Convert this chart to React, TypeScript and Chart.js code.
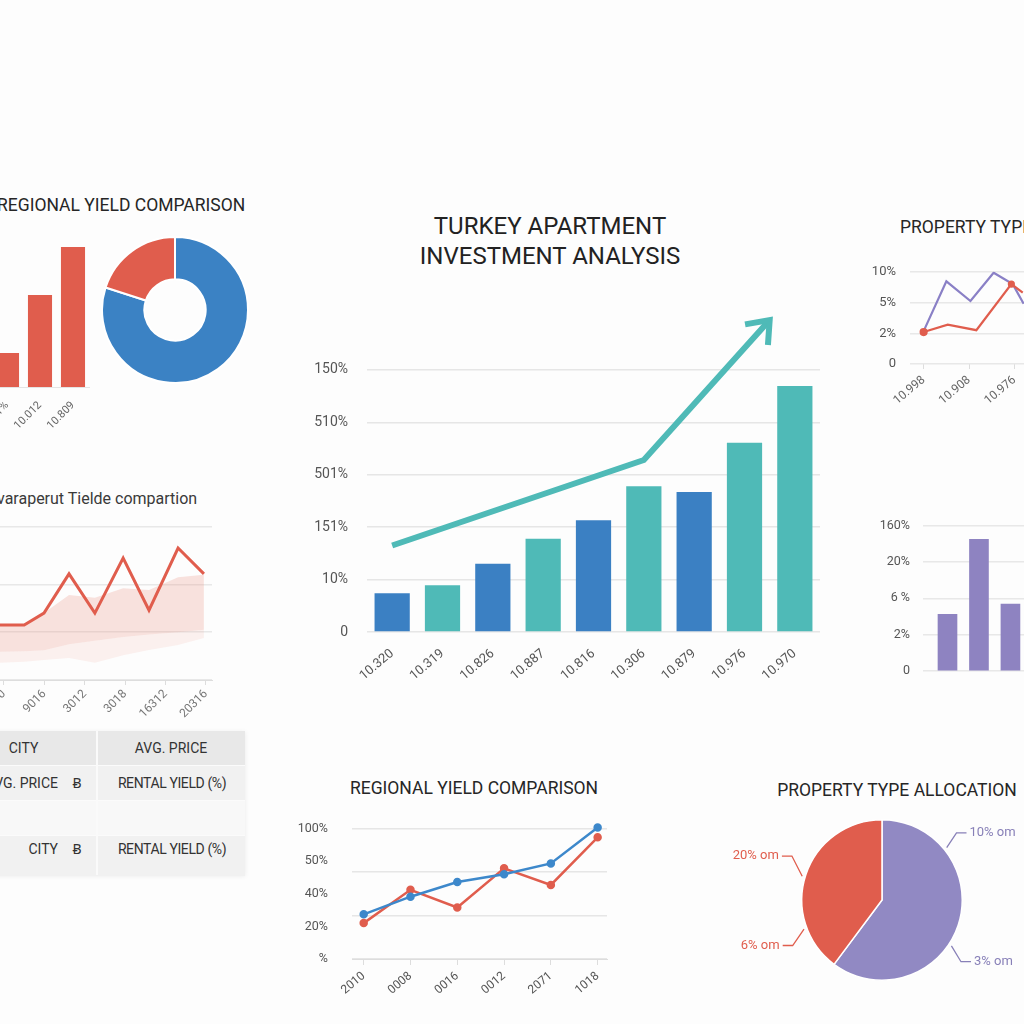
import React, { useEffect, useRef } from "react";
import { Chart, registerables } from "chart.js";

Chart.register(...registerables);
const FONT = "Roboto, 'Noto Sans', Arial, sans-serif";
Chart.defaults.font.family = FONT;

// ---------- Main chart (Turkey apartment investment analysis) ----------
const mainCategories = ["10.320", "10.319", "10.826", "10.887", "10.816", "10.306", "10.879", "10.976", "10.970"];
const mainValues = [0.74, 0.89, 1.3, 1.78, 2.13, 2.78, 2.67, 3.61, 4.69];
const mainTickLabels = ["0", "10%", "151%", "501%", "510%", "150%"];
const mainTrendX = [0, 5, 7.5];
const mainTrendY = [1.65, 3.28, 5.95];

// ---------- Top-left: regional yield comparison ----------
const aCategories = ["10.01%", "10.012", "10.809"];
const aValues = [22.8, 61.7, 94];
const donutValues = [80, 20];

// ---------- Mid-left: yield comparison line ----------
const bTickLabels = ["2010", "9016", "3012", "3018", "16312", "20316"];
const bX = [-0.1, 0.5, 0.99, 1.61, 2.25, 2.95, 3.59, 4.31, 4.95];
const bLine = [1.15, 1.15, 1.4, 2.22, 1.4, 2.55, 1.46, 2.76, 2.22];
const bBandTop = [1.15, 1.15, 1.4, 1.78, 1.72, 1.92, 1.88, 2.15, 2.2];
const bBandMid = [0.59, 0.6, 0.62, 0.75, 0.82, 0.9, 0.95, 1.0, 1.05];
const bBandLow = [0.36, 0.38, 0.42, 0.46, 0.36, 0.52, 0.63, 0.73, 0.88];
const bGridValues = [0, 1, 2, 3.2];

// ---------- Top-right: property type line ----------
const dTickLabels = ["10.998", "10.908", "10.976"];
const dYLabels = ["0", "2%", "5%", "10%"];
const dPurpleX = [0, 0.5, 1.03, 1.54, 1.96, 2.2];
const dPurpleY = [1.07, 2.69, 2.05, 2.97, 2.6, 1.96];
const dRedX = [0, 0.53, 1.16, 1.93, 2.18];
const dRedY = [1.04, 1.28, 1.1, 2.6, 2.32];

// ---------- Mid-right: bars ----------
const eCategories = ["10.336", "10.996", "10.800"];
const eValues = [1.56, 3.62, 1.84];
const eYLabels = ["0", "2%", "6 %", "20%", "160%"];

// ---------- Bottom-center: regional yield comparison lines ----------
const gCategories = ["2010", "0008", "0016", "0012", "2071", "1018"];
const gBlue = [1.37, 1.91, 2.36, 2.6, 2.93, 4.03];
const gRed = [1.1, 2.12, 1.58, 2.78, 2.27, 3.73];
const gYLabels = ["%", "20%", "40%", "50%", "100%"];

// ---------- Bottom-right: property type allocation ----------
const pieValues = [60.2, 39.8];
const pieCallouts = ["10% om", "3% om", "20% om", "6% om"];

// ---------- Table ----------
const tableHeader = ["CITY", "AVG. PRICE"];
const tableRows = [
  ["AVG. PRICE", "Ƀ", "RENTAL YIELD (%)"],
  ["", "", ""],
  ["CITY", "Ƀ", "RENTAL YIELD (%)"],
];

// ---------- Styles ----------
const BLUE = "#3b80c3";
const TEAL = "#4fbab7";
const RED = "#e05d4d";
const DONUT_BLUE = "#3b82c4";
const PURPLE_BAR = "#8e83c1";
const PURPLE_LINE = "#8a80c6";
const PIE_PURPLE = "#9189c3";
const PURPLE_TXT = "#8880b8";
const G_BLUE = "#3d88cb";
const mainBarColors = [BLUE, TEAL, BLUE, TEAL, BLUE, TEAL, BLUE, TEAL, TEAL];
const dRedPointRadius = [3, 0, 0, 2.5, 0];
const calloutGeom = [
  { angle: 51, elbow: 48, color: PURPLE_TXT, right: true },
  { angle: 123.5, elbow: 128, color: PURPLE_TXT, right: true },
  { angle: 286.6, elbow: 296, color: RED, right: false },
  { angle: 249.5, elbow: 243, color: RED, right: false },
];

const noPlugins = { legend: { display: false }, tooltip: { enabled: false } };
const fixWidth = (w: number) => (s: any) => {
  s.width = w;
};
const fixHeight = (h: number) => (s: any) => {
  s.height = h;
};
const pts = (xs: number[], ys: number[]) => xs.map((x, i) => ({ x, y: ys[i] }));

const arrowHeadPlugin = {
  id: "arrowHead",
  afterDatasetsDraw(chart: any) {
    const meta = chart.getDatasetMeta(1);
    const p = meta.data;
    const n = p.length;
    if (n < 2) return;
    const a = p[n - 2];
    const b = p[n - 1];
    const ang = Math.atan2(b.y - a.y, b.x - a.x) + Math.PI;
    const spread = (38 * Math.PI) / 180;
    const L = 25;
    const ctx = chart.ctx;
    ctx.save();
    ctx.strokeStyle = TEAL;
    ctx.lineWidth = 6;
    ctx.lineJoin = "miter";
    ctx.lineCap = "butt";
    ctx.beginPath();
    ctx.moveTo(b.x + L * Math.cos(ang + spread), b.y + L * Math.sin(ang + spread));
    ctx.lineTo(b.x, b.y);
    ctx.lineTo(b.x + L * Math.cos(ang - spread), b.y + L * Math.sin(ang - spread));
    ctx.stroke();
    ctx.restore();
  },
};

const calloutPlugin = {
  id: "callouts",
  afterDraw(chart: any) {
    const arc = chart.getDatasetMeta(0).data[0];
    if (!arc) return;
    const { x, y, outerRadius } = arc;
    const ctx = chart.ctx;
    const at = (deg: number, r: number) => {
      const a = (deg * Math.PI) / 180;
      return { x: x + r * Math.sin(a), y: y - r * Math.cos(a) };
    };
    ctx.save();
    ctx.font = `13px ${FONT}`;
    ctx.textBaseline = "middle";
    pieCallouts.forEach((text, i) => {
      const g = calloutGeom[i];
      const s = at(g.angle, outerRadius + 3);
      const e = at(g.elbow, outerRadius + 20);
      const endX = e.x + (g.right ? 10 : -10);
      ctx.strokeStyle = g.color;
      ctx.lineWidth = 1.3;
      ctx.beginPath();
      ctx.moveTo(s.x, s.y);
      ctx.lineTo(e.x, e.y);
      ctx.lineTo(endX, e.y);
      ctx.stroke();
      ctx.fillStyle = g.color;
      ctx.textAlign = g.right ? "left" : "right";
      ctx.fillText(text, endX + (g.right ? 3 : -3), e.y);
    });
    ctx.restore();
  },
};

const mainConfig = () => ({
  type: "bar",
  data: {
    labels: mainCategories,
    datasets: [
      {
        type: "bar",
        data: mainValues,
        backgroundColor: mainBarColors,
        categoryPercentage: 1,
        barPercentage: 0.7,
        grouped: false,
        order: 1,
      },
      {
        type: "line",
        data: pts(mainTrendX, mainTrendY),
        xAxisID: "xl",
        borderColor: TEAL,
        borderWidth: 6,
        pointRadius: 0,
        fill: false,
        clip: false,
        order: 0,
        borderCapStyle: "butt",
        borderJoinStyle: "miter",
      },
    ],
  },
  options: {
    responsive: false,
    animation: false,
    layout: { padding: { top: 19, right: 20, left: 0, bottom: 0 } },
    plugins: noPlugins,
    scales: {
      x: {
        type: "category",
        offset: true,
        grid: { display: false },
        border: { display: false },
        afterFit: fixHeight(68),
        ticks: { minRotation: 40, maxRotation: 40, autoSkip: false, font: { size: 13 }, color: "#555", padding: 6 },
      },
      xl: { type: "linear", display: false, offset: false, bounds: "data", min: -0.5, max: 8.5 },
      y: {
        min: 0,
        max: 6,
        afterFit: fixWidth(67),
        ticks: {
          stepSize: 1,
          padding: 19,
          font: { size: 14 },
          color: "#555",
          callback: (v: any) => mainTickLabels[v] ?? "",
        },
        grid: {
          color: (c: any) => (c.tick && c.tick.value > 5 ? "rgba(0,0,0,0)" : "#e6e6e6"),
          drawTicks: false,
          lineWidth: 1.5,
        },
        border: { display: false },
      },
    },
  },
  plugins: [arrowHeadPlugin],
});

const aBarConfig = () => ({
  type: "bar",
  data: {
    labels: aCategories,
    datasets: [{ data: aValues, backgroundColor: RED, categoryPercentage: 1, barPercentage: 0.73 }],
  },
  options: {
    responsive: false,
    animation: false,
    plugins: noPlugins,
    layout: { padding: { left: 50.5, right: 10.5, top: 18, bottom: 0 } },
    scales: {
      x: {
        grid: { display: false },
        border: { display: true, color: "#e4e4e4" },
        afterFit: fixHeight(43),
        ticks: { minRotation: 45, maxRotation: 45, font: { size: 11 }, color: "#666", padding: 4 },
      },
      y: { display: false, min: 0, max: 100 },
    },
  },
});

const donutConfig = () => ({
  type: "doughnut",
  data: {
    datasets: [{ data: donutValues, backgroundColor: [DONUT_BLUE, RED], borderColor: "#fff", borderWidth: 2 }],
  },
  options: { responsive: false, animation: false, cutout: "42%", plugins: noPlugins, layout: { padding: 0 } },
});

const bConfig = () => ({
  type: "line",
  data: {
    datasets: [
      { data: pts(bX, bLine), borderColor: RED, borderWidth: 3, pointRadius: 0, fill: false, tension: 0 },
      {
        data: pts(bX, bBandTop),
        borderColor: "rgba(0,0,0,0)",
        borderWidth: 0,
        pointRadius: 0,
        fill: "+1",
        backgroundColor: "rgba(236,140,120,0.24)",
      },
      {
        data: pts(bX, bBandMid),
        borderColor: "rgba(0,0,0,0)",
        borderWidth: 0,
        pointRadius: 0,
        fill: "+1",
        backgroundColor: "rgba(236,150,130,0.12)",
      },
      { data: pts(bX, bBandLow), borderColor: "rgba(0,0,0,0)", borderWidth: 0, pointRadius: 0, fill: false },
    ],
  },
  options: {
    responsive: false,
    animation: false,
    plugins: noPlugins,
    layout: { padding: { left: 43.8, right: 18, top: 17, bottom: 0 } },
    scales: {
      x: {
        type: "linear",
        min: -0.5,
        max: 5.15,
        afterFit: fixHeight(40),
        ticks: {
          stepSize: 1,
          includeBounds: false,
          minRotation: 45,
          maxRotation: 45,
          font: { size: 12 },
          color: "#777",
          padding: 2,
          callback: (v: any) => bTickLabels[v] ?? "",
        },
        grid: { drawOnChartArea: false, tickLength: 5, color: "#ddd" },
        border: { display: true, color: "#ddd" },
      },
      y: {
        min: 0,
        max: 3.2,
        afterFit: fixWidth(0),
        afterBuildTicks: (s: any) => {
          s.ticks = bGridValues.map((v) => ({ value: v }));
        },
        ticks: { display: false },
        grid: { color: "#e8e8e8", drawTicks: false, lineWidth: 1.5 },
        border: { display: false },
      },
    },
  },
});

const dConfig = () => ({
  type: "line",
  data: {
    datasets: [
      {
        data: pts(dRedX, dRedY),
        borderColor: RED,
        backgroundColor: RED,
        borderWidth: 2.2,
        pointRadius: dRedPointRadius,
        tension: 0,
      },
      { data: pts(dPurpleX, dPurpleY), borderColor: PURPLE_LINE, borderWidth: 2.2, pointRadius: 0, tension: 0 },
    ],
  },
  options: {
    responsive: false,
    animation: false,
    plugins: noPlugins,
    layout: { padding: { left: 0, right: 20, top: 16, bottom: 0 } },
    scales: {
      x: {
        type: "linear",
        min: -0.3,
        max: 3,
        afterFit: fixHeight(46),
        ticks: {
          stepSize: 1,
          includeBounds: false,
          minRotation: 40,
          maxRotation: 40,
          font: { size: 12 },
          color: "#666",
          padding: 4,
          callback: (v: any) => dTickLabels[v] ?? "",
        },
        grid: { drawOnChartArea: false, tickLength: 5, color: "#ddd" },
        border: { display: false },
      },
      y: {
        min: 0,
        max: 3,
        afterFit: fixWidth(70),
        ticks: { stepSize: 1, padding: 14, font: { size: 13 }, color: "#555", callback: (v: any) => dYLabels[v] ?? "" },
        grid: { color: "#e8e8e8", drawTicks: false, lineWidth: 1.5 },
        border: { display: false },
      },
    },
  },
});

const eConfig = () => ({
  type: "bar",
  data: {
    datasets: [
      {
        data: eCategories.map((_, i) => ({ x: i + 1, y: eValues[i] })),
        backgroundColor: PURPLE_BAR,
        grouped: false,
        barThickness: 19,
      },
    ],
  },
  options: {
    responsive: false,
    animation: false,
    plugins: noPlugins,
    layout: { padding: { left: 0, right: 45, top: 20, bottom: 0 } },
    scales: {
      x: {
        type: "linear",
        offset: false,
        bounds: "data",
        min: 0.222,
        max: 3.78,
        afterFit: fixHeight(49),
        ticks: {
          stepSize: 1,
          includeBounds: false,
          minRotation: 45,
          maxRotation: 45,
          font: { size: 11 },
          color: "#666",
          padding: 4,
          callback: (v: any) => eCategories[v - 1] ?? "",
        },
        grid: { display: false },
        border: { display: false },
      },
      y: {
        min: 0,
        max: 4,
        afterFit: fixWidth(83),
        ticks: { stepSize: 1, padding: 13, font: { size: 12.5 }, color: "#555", callback: (v: any) => eYLabels[v] ?? "" },
        grid: { color: "#e8e8e8", drawTicks: false, lineWidth: 1.5 },
        border: { display: false },
      },
    },
  },
});

const gConfig = () => ({
  type: "line",
  data: {
    datasets: [
      {
        data: gBlue.map((y, i) => ({ x: i, y })),
        borderColor: G_BLUE,
        backgroundColor: G_BLUE,
        borderWidth: 2.5,
        pointRadius: 3,
        tension: 0,
        clip: false,
      },
      {
        data: gRed.map((y, i) => ({ x: i, y })),
        borderColor: RED,
        backgroundColor: RED,
        borderWidth: 2.5,
        pointRadius: 3,
        tension: 0,
        clip: false,
      },
    ],
  },
  options: {
    responsive: false,
    animation: false,
    plugins: noPlugins,
    layout: { padding: { left: 0, right: 23, top: 20, bottom: 0 } },
    scales: {
      x: {
        type: "linear",
        min: -0.25,
        max: 5.2,
        afterFit: fixHeight(61),
        ticks: {
          stepSize: 1,
          includeBounds: false,
          minRotation: 40,
          maxRotation: 40,
          font: { size: 12 },
          color: "#555",
          padding: 4,
          callback: (v: any) => gCategories[v] ?? "",
        },
        grid: { drawOnChartArea: false, tickLength: 6, color: "#ddd" },
        border: { display: true, color: "#ddd" },
      },
      y: {
        min: 0,
        max: 4,
        afterFit: fixWidth(62),
        ticks: { stepSize: 1, padding: 16, font: { size: 12.5 }, color: "#555", callback: (v: any) => gYLabels[v] ?? "" },
        grid: { display: false },
        border: { display: false },
      },
      y2: {
        position: "right",
        min: 0,
        max: 3,
        afterFit: fixWidth(0),
        ticks: { display: false, stepSize: 1 },
        grid: { color: "#e6e6e6", drawTicks: false, lineWidth: 1.5 },
        border: { display: false },
      },
    },
  },
});

const pieConfig = () => ({
  type: "pie",
  data: {
    datasets: [{ data: pieValues, backgroundColor: [PIE_PURPLE, RED], borderColor: "#fff", borderWidth: 1.5 }],
  },
  options: {
    responsive: false,
    animation: false,
    plugins: noPlugins,
    layout: { padding: { left: 81, right: 61, top: 19, bottom: 19 } },
  },
  plugins: [calloutPlugin],
});

function ChartBox({ left, top, width, height, config }: any) {
  const ref = useRef<HTMLCanvasElement>(null);
  useEffect(() => {
    const chart = new Chart(ref.current as HTMLCanvasElement, config());
    return () => chart.destroy();
  }, []);
  return (
    <canvas
      ref={ref}
      width={width}
      height={height}
      style={{ position: "absolute", left, top, width, height, display: "block" }}
    />
  );
}

function Text({ children, left, top, width, size = 17.5, align = "left", color = "#262626", lh = 20, ls = 0 }: any) {
  return (
    <div
      style={{
        position: "absolute",
        left,
        top,
        width,
        fontSize: size,
        lineHeight: `${lh}px`,
        textAlign: align,
        color,
        fontFamily: FONT,
        whiteSpace: "nowrap",
        letterSpacing: ls,
      }}
    >
      {children}
    </div>
  );
}

function Table() {
  const rowTops = [765, 800, 835];
  const rowHeights = [35, 35, 40];
  const rowBg = ["#f1f1f1", "#f8f8f8", "#f1f1f1"];
  return (
    <div style={{ position: "absolute", left: 0, top: 0 }}>
      <div
        style={{
          position: "absolute",
          left: -60,
          top: 731,
          width: 305,
          height: 144,
          boxShadow: "0 1px 5px rgba(0,0,0,0.08)",
          background: "#f6f6f6",
        }}
      />
      <div style={{ position: "absolute", left: -60, top: 731, width: 305, height: 34, background: "#e8e8e8" }} />
      {rowTops.map((t, i) => (
        <div
          key={i}
          style={{
            position: "absolute",
            left: -60,
            top: t,
            width: 305,
            height: rowHeights[i],
            background: rowBg[i],
            borderTop: "1px solid #fbfbfb",
          }}
        />
      ))}
      <div style={{ position: "absolute", left: 96, top: 731, width: 2, height: 144, background: "#fafafa" }} />
      <Text left={-50} top={738} width={147} size={14} align="center" color="#333">
        {tableHeader[0]}
      </Text>
      <Text left={97} top={738} width={148} size={14} align="center" color="#333">
        {tableHeader[1]}
      </Text>
      {tableRows.map((r, i) => {
        const cy = rowTops[i] + rowHeights[i] / 2 - (i === 2 ? 6 : 0);
        return (
          <React.Fragment key={i}>
            <Text left={-100} top={cy - 10} width={158} size={14} align="right" color="#333">
              {r[0]}
            </Text>
            <Text left={66} top={cy - 10} width={22} size={14} align="center" color="#333">
              {r[1]}
            </Text>
            <Text left={97} top={cy - 10} width={150} size={14} align="center" color="#333" ls={-0.4}>
              {r[2]}
            </Text>
          </React.Fragment>
        );
      })}
    </div>
  );
}

export default function App() {
  return (
    <div
      style={{
        position: "fixed",
        left: 0,
        top: 0,
        width: 1024,
        height: 1024,
        overflow: "hidden",
        background: "#fdfdfd",
        fontFamily: FONT,
      }}
    >
      {/* Top-left panel */}
      <Text left={-3} top={195}>
        REGIONAL YIELD COMPARISON
      </Text>
      <ChartBox left={-60} top={220} width={160} height={210} config={aBarConfig} />
      <ChartBox left={101} top={236} width={148} height={148} config={donutConfig} />

      {/* Mid-left panel */}
      <Text left={-3} top={489} size={16} color="#3a3a3a">
        varaperut Tielde compartion
      </Text>
      <ChartBox left={-60} top={510} width={290} height={210} config={bConfig} />

      {/* Main chart */}
      <Text left={350} top={211} width={400} size={24} lh={30} align="center" color="#222">
        TURKEY APARTMENT
        <br />
        INVESTMENT ANALYSIS
      </Text>
      <ChartBox left={300} top={290} width={540} height={410} config={mainConfig} />

      {/* Top-right */}
      <Text left={900} top={217}>
        PROPERTY TYPE ALLOCATION
      </Text>
      <ChartBox left={840} top={250} width={240} height={160} config={dConfig} />

      {/* Mid-right */}
      <ChartBox left={840} top={505} width={240} height={215} config={eConfig} />

      {/* Table */}
      <Table />

      {/* Bottom center */}
      <Text left={274} top={778} width={400} align="center">
        REGIONAL YIELD COMPARISON
      </Text>
      <ChartBox left={290} top={805} width={340} height={215} config={gConfig} />

      {/* Bottom right */}
      <Text left={697} top={780} width={400} align="center">
        PROPERTY TYPE ALLOCATION
      </Text>
      <ChartBox left={720} top={800} width={304} height={200} config={pieConfig} />
    </div>
  );
}
